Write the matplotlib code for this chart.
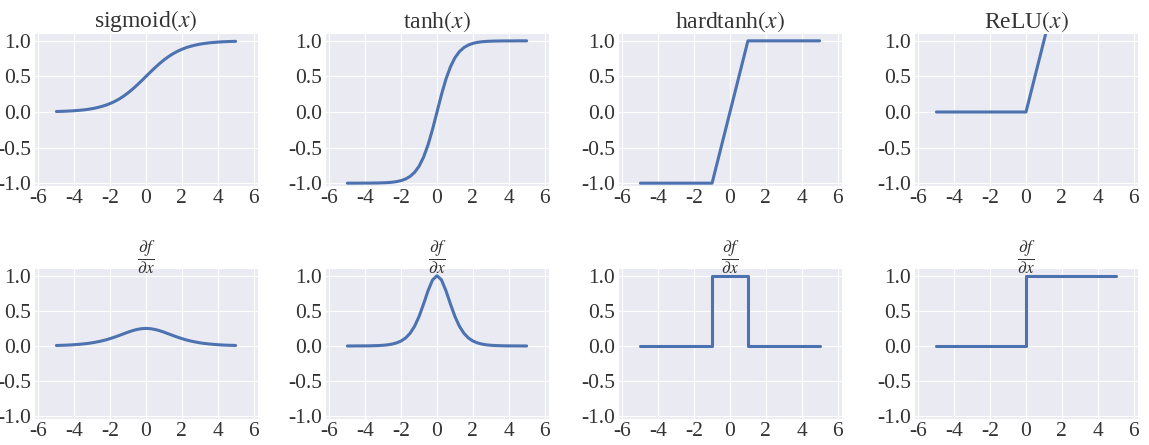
import matplotlib
matplotlib.use("Agg")
import matplotlib.pyplot as plt
import seaborn as sns

sns.set_style("darkgrid")
plt.rcParams['font.family'] = ['Liberation Serif', 'DejaVu Serif']
plt.rcParams['mathtext.fontset'] = 'stix'
plt.rcParams['axes.unicode_minus'] = False

# ---- data ----
x_smooth = [-5.0, -4.75, -4.5, -4.25, -4.0, -3.75, -3.5, -3.25, -3.0, -2.75,
            -2.5, -2.25, -2.0, -1.75, -1.5, -1.25, -1.0, -0.75, -0.5, -0.25,
            0.0, 0.25, 0.5, 0.75, 1.0, 1.25, 1.5, 1.75, 2.0, 2.25,
            2.5, 2.75, 3.0, 3.25, 3.5, 3.75, 4.0, 4.25, 4.5, 4.75, 5.0]

sigmoid_y = [0.007, 0.009, 0.011, 0.014, 0.018, 0.023, 0.029, 0.037, 0.047, 0.060,
             0.076, 0.095, 0.119, 0.148, 0.182, 0.223, 0.269, 0.321, 0.378, 0.438,
             0.500, 0.562, 0.622, 0.679, 0.731, 0.777, 0.818, 0.852, 0.881, 0.905,
             0.924, 0.940, 0.953, 0.963, 0.971, 0.977, 0.982, 0.986, 0.989, 0.991, 0.993]

sigmoid_dy = [0.007, 0.009, 0.011, 0.014, 0.018, 0.023, 0.029, 0.036, 0.045, 0.057,
              0.070, 0.086, 0.105, 0.126, 0.149, 0.173, 0.197, 0.218, 0.235, 0.246,
              0.250, 0.246, 0.235, 0.218, 0.197, 0.173, 0.149, 0.126, 0.105, 0.086,
              0.070, 0.057, 0.045, 0.036, 0.029, 0.023, 0.018, 0.014, 0.011, 0.009, 0.007]

tanh_y = [-1.000, -1.000, -1.000, -0.999, -0.999, -0.999, -0.998, -0.997, -0.995, -0.992,
          -0.987, -0.978, -0.964, -0.941, -0.905, -0.848, -0.762, -0.635, -0.462, -0.245,
          0.000, 0.245, 0.462, 0.635, 0.762, 0.848, 0.905, 0.941, 0.964, 0.978,
          0.987, 0.992, 0.995, 0.997, 0.998, 0.999, 0.999, 0.999, 1.000, 1.000, 1.000]

tanh_dy = [0.000, 0.000, 0.001, 0.001, 0.001, 0.002, 0.004, 0.006, 0.010, 0.016,
           0.027, 0.044, 0.071, 0.114, 0.181, 0.281, 0.420, 0.597, 0.786, 0.940,
           1.000, 0.940, 0.786, 0.597, 0.420, 0.281, 0.181, 0.114, 0.071, 0.044,
           0.027, 0.016, 0.010, 0.006, 0.004, 0.002, 0.001, 0.001, 0.001, 0.000, 0.000]

hardtanh_x = [-5, -1, 1, 5]
hardtanh_y = [-1, -1, 1, 1]
hardtanh_dx = [-5, -1, -1, 1, 1, 5]
hardtanh_dy = [0, 0, 1, 1, 0, 0]

relu_x = [-5, 0, 5]
relu_y = [0, 0, 5]
relu_dx = [-5, 0, 0, 5]
relu_dy = [0, 0, 1, 1]

titles = [r"sigmoid$(x)$", r"tanh$(x)$", r"hardtanh$(x)$", r"ReLU$(x)$"]
deriv_title = r"$\dfrac{\partial f}{\partial x}$"

top_series = [(x_smooth, sigmoid_y), (x_smooth, tanh_y),
              (hardtanh_x, hardtanh_y), (relu_x, relu_y)]
bottom_series = [(x_smooth, sigmoid_dy), (x_smooth, tanh_dy),
                 (hardtanh_dx, hardtanh_dy), (relu_dx, relu_dy)]

xticks = [-6, -4, -2, 0, 2, 4, 6]
yticks = [-1.0, -0.5, 0.0, 0.5, 1.0]

# ---- layout ----
W, H = 1149, 445
fig = plt.figure(figsize=(W / 100, H / 100), dpi=100)
col_left = [34, 325, 618, 914]
ax_w = 224
rows = [(33, 186), (268, 419)]
color = "#4C72B0"

for r, (top, bot) in enumerate(rows):
    for c in range(4):
        ax = fig.add_axes([col_left[c] / W, 1 - bot / H, ax_w / W, (bot - top) / H])
        xs, ys = (top_series if r == 0 else bottom_series)[c]
        ax.plot(xs, ys, color=color, lw=2.2, solid_capstyle='round')
        ax.set_xlim(-6.25, 6.25)
        ax.set_ylim(-1.04, 1.11)
        ax.set_xticks(xticks)
        ax.set_yticks(yticks)
        ax.set_xticklabels([str(t) for t in xticks])
        ax.set_yticklabels(["%.1f" % t for t in yticks])
        ax.tick_params(labelsize=15.5, pad=2, length=0)
        for lab in ax.get_xticklabels() + ax.get_yticklabels():
            lab.set_color("#333333")
        if r == 0:
            ax.set_title(titles[c], fontsize=17, pad=4, color="#333333")
        else:
            ax.set_title(deriv_title, fontsize=12.5, pad=4, color="#333333")

fig.savefig("out.png", dpi=100)
